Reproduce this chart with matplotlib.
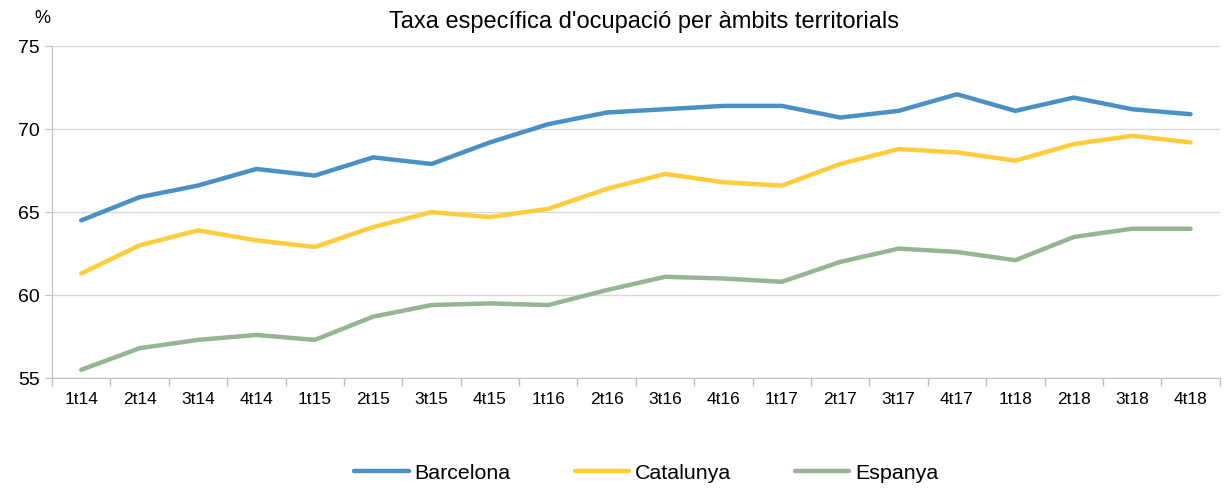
import matplotlib
matplotlib.use("Agg")
import matplotlib.pyplot as plt
import numpy as np

plt.rcParams['font.family'] = ['Liberation Sans', 'DejaVu Sans']

quarters = ["1t14", "2t14", "3t14", "4t14", "1t15", "2t15", "3t15", "4t15", "1t16", "2t16",
            "3t16", "4t16", "1t17", "2t17", "3t17", "4t17", "1t18", "2t18", "3t18", "4t18"]
barcelona = [64.5, 65.9, 66.6, 67.6, 67.2, 68.3, 67.9, 69.2, 70.3, 71.0,
             71.2, 71.4, 71.4, 70.7, 71.1, 72.1, 71.1, 71.9, 71.2, 70.9]
catalunya = [61.3, 63.0, 63.9, 63.3, 62.9, 64.1, 65.0, 64.7, 65.2, 66.4,
             67.3, 66.8, 66.6, 67.9, 68.8, 68.6, 68.1, 69.1, 69.6, 69.2]
espanya = [55.5, 56.8, 57.3, 57.6, 57.3, 58.7, 59.4, 59.5, 59.4, 60.3,
           61.1, 61.0, 60.8, 62.0, 62.8, 62.6, 62.1, 63.5, 64.0, 64.0]
series_names = ["Barcelona", "Catalunya", "Espanya"]
colors = ["#4A90C4", "#FFCD3C", "#95B595"]

fig = plt.figure(figsize=(12.24, 4.91), dpi=100)
ax = fig.add_axes([0.0425, 0.230, 0.954, 0.676])

x = np.arange(len(quarters))
for vals, name, c in zip([barcelona, catalunya, espanya], series_names, colors):
    ax.plot(x, vals, color=c, lw=3.2, label=name, solid_capstyle='round', solid_joinstyle='round')

ax.set_xlim(-0.5, len(quarters) - 0.5)
ax.set_ylim(55, 75)
ax.set_yticks([55, 60, 65, 70, 75])
ax.set_xticks(x)
ax.set_xticklabels(quarters, fontsize=12.5)
ax.set_xticks(np.arange(-0.5, len(quarters), 1), minor=True)
ax.tick_params(axis='x', which='major', length=0, pad=10)
ax.tick_params(axis='x', which='minor', length=6, color='#BFBFBF', width=1)
ax.tick_params(axis='y', length=5, color='#BFBFBF', labelsize=14, pad=4)

ax.grid(axis='y', color='#D9D9D9', lw=1)
ax.set_axisbelow(True)
for s in ['top', 'right']:
    ax.spines[s].set_visible(False)
for s in ['left', 'bottom']:
    ax.spines[s].set_color('#BFBFBF')

fig.text(0.526, 0.955, "Taxa específica d'ocupació per àmbits territorials", ha='center', va='center', fontsize=17)
fig.text(0.035, 0.962, "%", ha='center', va='center', fontsize=13)

fig.legend(loc='center', bbox_to_anchor=(0.528, 0.036), ncol=3, frameon=False, fontsize=15.4,
           handlelength=2.55, columnspacing=3.0, handletextpad=0.25)

fig.savefig("out.png", dpi=100)
